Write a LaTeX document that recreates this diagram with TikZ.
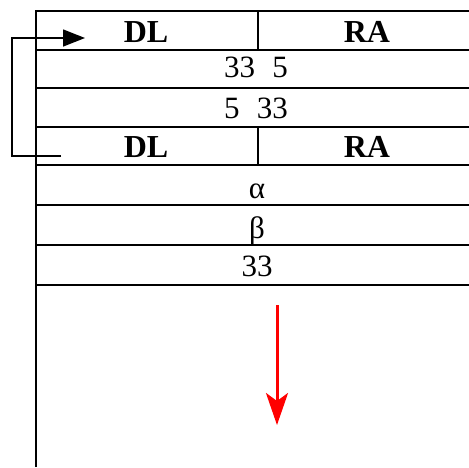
\documentclass[tikz,border=0pt]{standalone}
\usepackage{fontspec}
\setmainfont{Liberation Serif}
\usetikzlibrary{arrows.meta}
\tikzset{
  cell/.style={anchor=base,inner sep=0pt,font=\fontsize{31}{31}\selectfont},
  headcell/.style={anchor=base,inner sep=0pt,font=\fontsize{32}{32}\selectfont\bfseries},
  rule/.style={line width=2.3pt},
}
\begin{document}
\begin{tikzpicture}[x=1pt,y=-1pt]
\useasboundingbox (0,0) rectangle (469,467);
%\draw[step=10,gray,very thin] (0,0) grid (469,467);
\draw[rule] (36,467)--(36,11)--(469,11);
\draw[rule] (36,50)--(469,50);
\draw[rule] (36,88)--(469,88);
\draw[rule] (36,127)--(469,127);
\draw[rule] (36,165)--(469,165);
\draw[rule] (36,205)--(469,205);
\draw[rule] (36,245)--(469,245);
\draw[rule] (36,285)--(469,285);
\draw[rule] (258,11)--(258,50);
\draw[rule] (258,127)--(258,165);
\node[headcell] (dlA) at (146,42) {DL};
\node[headcell] (raA) at (367,42) {RA};
\node[cell] (rowB) at (256,77) {33\hspace{0.55em}5};
\node[cell] (rowC) at (256,118) {5\hspace{0.55em}33};
\node[headcell] (dlD) at (146,157) {DL};
\node[headcell] (raD) at (367,157) {RA};
\node[cell] (alpha) at (257,198) {α};
\node[cell] (beta) at (257,238) {β};
\node[cell] (val) at (257,276) {33};
\coordinate (loopfrom) at (61,156);
\coordinate (loopto) at (85,38);
\draw[line width=1.5pt,-{Triangle[length=22pt,width=17pt]}] (loopfrom)--(12,156)|-(loopto);
\coordinate (downfrom) at (277,305);
\coordinate (downto) at (277,425);
\draw[red,line width=3pt,-{Stealth[length=32pt,width=22pt,inset=8pt]}] (downfrom)--(downto);
\end{tikzpicture}
\end{document}
